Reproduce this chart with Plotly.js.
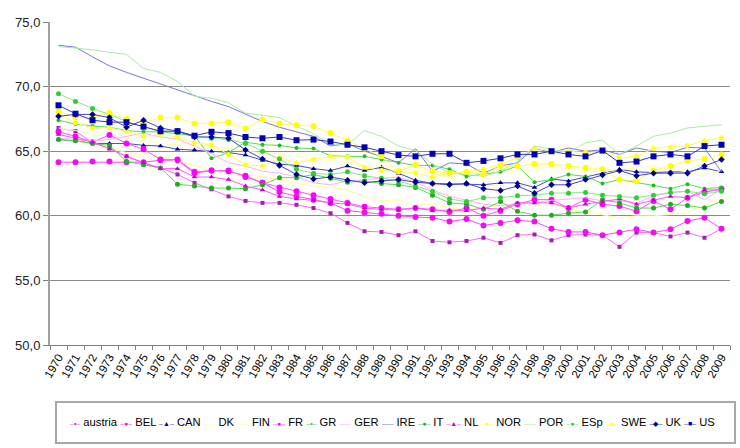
<!DOCTYPE html>
<html><head><meta charset="utf-8">
<script src="https://cdn.plot.ly/plotly-3.0.1.min.js"></script>
<style>html,body{margin:0;padding:0;background:#fff}#chart{width:740px;height:448px}</style>
</head><body><div id="chart"></div>
<script>
const years = ['1970','1971','1972','1973','1974','1975','1976','1977','1978','1979',
  '1980','1981','1982','1983','1984','1985','1986','1987','1988','1989',
  '1990','1991','1992','1993','1994','1995','1996','1997','1998','1999',
  '2000','2001','2002','2003','2004','2005','2006','2007','2008','2009'];

const austria = [66.8,66.55,65.65,65.2,64.6,64.1,63.7,63.2,62.55,62.05,
  61.5,61.15,61.0,61.0,60.85,60.6,60.2,59.45,58.8,58.75,
  58.5,58.8,58.05,57.95,58.05,58.3,57.9,58.5,58.55,58.1,
  58.5,58.55,58.5,57.6,58.7,58.7,58.4,58.7,58.3,59.0];
const BEL = [64.15,64.15,64.2,64.2,64.15,64.15,64.3,64.3,63.3,63.5,
  63.5,63.0,62.55,61.85,61.5,61.25,61.0,60.4,60.25,60.15,
  60.0,59.9,59.85,59.55,59.75,59.25,59.45,59.65,59.55,59.0,
  58.75,58.75,58.5,58.7,58.95,58.7,58.95,59.6,59.85,59.0];
const CAN = [65.9,65.8,65.6,65.6,65.6,65.45,65.4,65.15,65.1,65.0,
  64.9,64.7,64.3,64.0,63.9,63.65,63.5,63.85,63.5,63.75,
  63.3,62.75,62.5,62.5,62.45,62.4,62.55,62.55,62.2,62.85,
  62.7,63.0,63.3,63.6,63.4,63.35,63.4,63.4,63.7,63.4];
const DK = [66.8,66.6,66.3,66.1,66.0,65.8,65.6,65.5,65.4,65.3,
  65.2,65.0,64.9,64.8,64.6,64.4,64.3,64.1,63.9,63.8,
  63.7,63.5,63.3,63.0,63.2,63.4,63.6,63.4,63.6,63.8,
  63.7,63.5,63.4,63.6,63.7,63.8,63.6,63.4,63.2,63.5];
const FIN = [66.0,65.8,65.5,65.2,64.9,64.7,64.6,64.2,63.9,63.5,
  63.4,63.2,63.0,62.8,62.5,62.3,62.2,62.0,61.5,61.15,
  61.25,60.75,60.9,60.6,60.5,60.6,60.8,61.0,61.2,61.0,
  60.5,60.3,60.1,59.85,60.0,60.0,60.1,60.25,60.8,61.4];
const FR = [66.5,66.15,65.7,66.25,65.6,65.15,64.35,64.35,63.4,63.5,
  63.45,63.1,62.55,62.2,61.9,61.6,61.3,61.0,60.7,60.6,
  60.5,60.6,60.5,60.3,60.6,60.0,60.4,60.9,61.25,61.25,
  60.6,61.25,60.9,60.75,60.35,61.15,60.5,61.4,61.8,62.1];
const GR = [67.4,67.1,66.95,66.85,66.6,66.5,66.5,66.35,66.2,64.45,
  64.9,65.7,65.5,65.45,65.25,65.2,64.65,64.6,64.6,64.35,
  64.1,63.9,63.9,63.6,63.05,63.25,63.4,63.85,62.6,62.8,
  63.2,63.05,62.5,62.8,62.6,62.35,62.1,62.45,62.1,62.2];
const GER = [66.0,65.9,65.8,65.9,66.15,66.4,66.1,65.95,65.4,64.8,
  64.1,63.85,63.45,63.3,63.0,62.55,62.4,62.7,62.8,62.9,
  63.0,62.6,62.0,61.5,61.2,60.9,60.8,60.9,61.0,61.2,
  61.3,61.4,61.15,61.15,61.0,61.5,61.8,61.9,61.25,62.05];
const IRE = [73.2,73.05,72.3,71.6,71.1,70.65,70.15,69.75,69.3,68.85,
  68.45,67.85,67.3,66.85,66.5,66.15,65.4,65.6,65.0,64.6,
  64.1,65.2,63.45,64.1,64.0,63.3,63.85,64.1,65.25,64.9,
  65.25,65.0,65.1,64.75,65.25,65.0,64.9,65.3,65.25,63.4];
const IT = [65.9,65.8,65.6,65.45,64.2,63.95,63.7,62.45,62.3,62.15,
  62.15,62.1,62.4,62.95,62.95,63.2,62.9,62.6,62.7,62.5,
  62.4,62.2,61.6,61.0,60.9,60.5,61.1,60.35,60.05,60.05,
  60.2,60.3,61.25,61.0,60.6,60.6,60.9,60.8,60.6,61.1];
const NL = [66.3,66.0,65.7,65.2,64.6,64.1,63.65,63.65,63.0,63.0,
  62.8,62.3,62.0,61.5,61.3,61.2,61.0,60.9,60.6,60.5,
  60.45,60.6,60.4,60.45,60.4,60.6,60.5,61.0,61.0,61.0,
  60.6,60.9,61.1,61.3,60.9,61.2,61.5,61.4,62.0,62.0];
const NOR = [67.9,67.2,66.8,66.8,66.55,66.15,66.3,66.1,65.65,65.5,
  64.75,63.95,63.85,64.5,64.1,64.35,64.6,64.55,63.75,63.5,
  63.45,63.3,63.0,63.3,63.4,63.6,64.0,64.5,65.25,65.0,
  65.0,64.9,65.0,64.5,64.6,65.2,65.3,65.45,65.8,66.05];
const POR = [73.1,73.0,72.85,72.65,72.5,71.4,71.1,70.4,69.25,69.1,
  68.75,67.95,67.8,67.6,66.95,66.35,65.5,65.5,66.6,66.15,
  65.4,65.05,64.0,63.3,63.2,63.05,63.45,64.2,65.4,65.15,
  64.9,65.65,65.85,64.75,65.4,66.15,66.4,66.8,66.95,67.05];
const ESp = [69.45,68.85,68.3,67.85,67.3,66.9,66.5,66.5,66.2,66.0,
  65.9,65.6,65.0,64.4,63.6,63.3,63.2,63.4,63.1,62.9,
  62.7,62.3,61.9,61.3,61.1,61.4,61.4,61.55,61.6,61.75,
  61.75,61.8,61.6,61.5,61.4,61.6,61.8,61.9,61.7,61.9];
const SWE = [68.1,67.6,67.6,67.95,67.5,67.2,67.6,67.6,67.15,67.15,
  67.25,66.75,67.45,67.15,67.0,66.95,66.4,65.8,65.2,64.6,
  63.45,63.95,63.45,63.3,63.4,63.2,63.85,63.85,64.0,64.0,
  63.85,63.7,63.6,62.8,62.7,63.5,63.85,64.25,64.4,64.75];
const UK = [67.7,67.85,67.85,67.6,66.85,67.4,66.8,66.55,66.1,66.1,
  66.0,65.1,64.4,63.9,63.2,62.85,63.0,62.75,62.55,62.7,
  62.8,62.6,62.5,62.4,62.5,62.1,61.95,62.3,61.75,62.4,
  62.4,62.8,63.15,63.5,63.1,63.3,63.3,63.3,63.85,64.35];
const US = [68.55,67.9,67.4,67.25,67.25,66.9,66.55,66.55,66.2,66.5,
  66.4,66.1,66.0,66.1,65.85,65.9,65.75,65.5,65.3,65.0,
  64.7,64.6,64.8,64.8,64.1,64.25,64.45,64.75,64.75,65.0,
  64.75,64.6,65.05,64.1,64.2,64.6,64.75,64.6,65.4,65.5];

const seriesNames = ['austria','BEL','CAN','DK','FIN','FR','GR','GER','IRE','IT','NL','NOR','POR','ESp','SWE','UK','US'];
const seriesValues = [austria,BEL,CAN,DK,FIN,FR,GR,GER,IRE,IT,NL,NOR,POR,ESp,SWE,UK,US];
const yTickVals = [50,55,60,65,70,75];

// styles
const lineColors   = ['#ff66ff','#ff44ff','#4a4ad0','#ffffa8','#ffff90','#ff55ff','#55dd55','#ffb0f0','#7878d8','#55dd55','#ff55ff','#ffff55','#a8eca8','#88e888','#ffff55','#4545c8','#3535c8'];
const markerColors = ['#a020b0','#ee10ee','#000090',null,null,'#ff00ff','#22bb22',null,null,'#22aa22','#cc00cc','#ffff22',null,'#33cc33','#ffff00','#000090','#0000b0'];
const markerSymbols= ['square','circle','triangle-up',null,null,'circle','circle',null,null,'circle','triangle-up','circle',null,'circle','circle','diamond','square'];
const markerSizes  = [4,6,5,0,0,6,4,0,0,5,5,5,0,5,6,5,6];
const legendGlyph  = {'square':'■','circle':'●','triangle-up':'▲','diamond':'◆'};

const traces = seriesNames.map((n,i)=>({
  type:'scatter',
  mode: markerSymbols[i] ? 'lines+markers' : 'lines',
  name:n, x:years, y:seriesValues[i],
  line:{color:lineColors[i], width:1},
  marker:{symbol:markerSymbols[i]||'circle', size:markerSizes[i], color:markerColors[i]||lineColors[i], line:{width:0}},
  showlegend:false, hoverinfo:'skip'
}));

const legendText = seriesNames.map((n,i)=>{
  const lc = lineColors[i];
  let sym;
  if (markerSymbols[i]) {
    const g = markerSizes[i] <= 4 ? '•' : legendGlyph[markerSymbols[i]];
    sym = `<span style="font-size:7px"><span style="color:${lc}">–</span><span style="color:${markerColors[i]}">${g}</span><span style="color:${lc}">–</span></span>`;
  } else {
    sym = `<span style="font-size:7px;color:${lc}">–––</span>`;
  }
  return sym + ' ' + n;
}).join(' ');

const layout = {
  width:740, height:448,
  margin:{l:50, r:10, t:22, b:103},
  paper_bgcolor:'#ffffff', plot_bgcolor:'#ffffff',
  separators:',.',
  font:{family:'Liberation Sans, Arial, sans-serif', color:'#000'},
  xaxis:{
    type:'category', range:[-0.5, 39.5],
    tickson:'boundaries', ticks:'outside', ticklen:4, tickcolor:'#808080',
    showgrid:false, showline:true, linecolor:'#808080', linewidth:1,
    tickangle:-60, tickfont:{size:11.5, color:'#000'}, automargin:false
  },
  yaxis:{
    range:[50,75], tickvals:yTickVals, tickformat:'.1f',
    showgrid:true, gridcolor:'#8a8a8a', gridwidth:1,
    showline:true, linecolor:'#a0a0a0', linewidth:2,
    ticks:'outside', ticklen:5, tickcolor:'#808080',
    tickfont:{size:13, color:'#222'}, zeroline:false, automargin:false
  },
  shapes:[{type:'rect', xref:'paper', yref:'paper', x0:0.0088, x1:1.0074, y0:-0.3034, y1:-0.1765,
    line:{color:'#a8a8a8', width:2}, fillcolor:'rgba(0,0,0,0)'}],
  annotations:[{xref:'paper', yref:'paper', x:0.504, y:-0.2384, xanchor:'center', yanchor:'middle',
    text:legendText, showarrow:false, font:{size:11.2, color:'#000', family:'Liberation Sans, Arial, sans-serif'}}]
};

Plotly.newPlot('chart', traces, layout, {displayModeBar:false, staticPlot:true});
</script></body></html>
